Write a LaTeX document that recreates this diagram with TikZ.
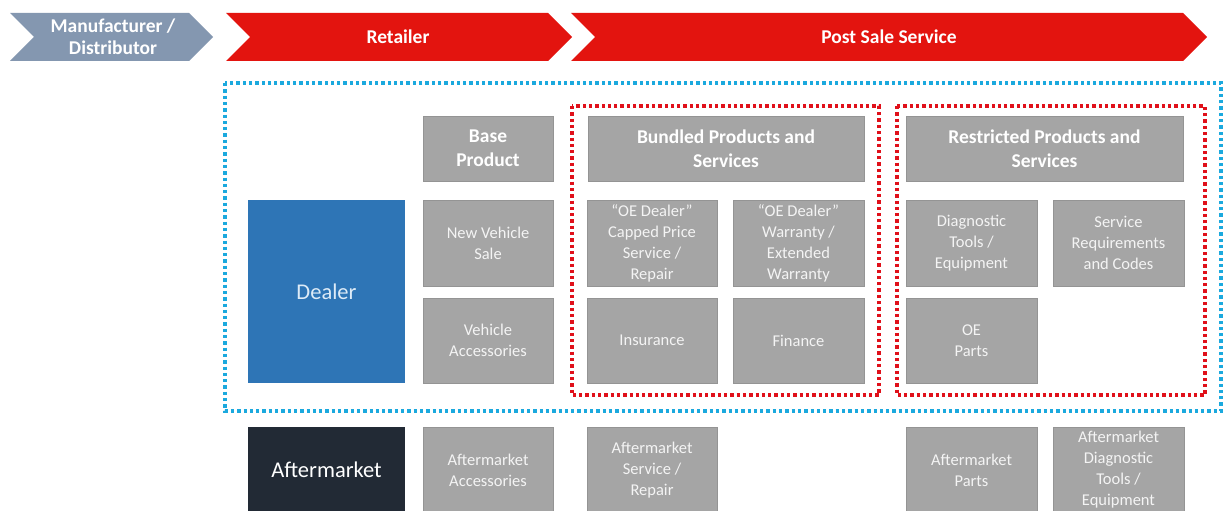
\documentclass[tikz,border=0pt]{standalone}
\usepackage{fontspec}
\setmainfont{Carlito}
\definecolor{chevblue}{HTML}{8497B0}
\definecolor{chevred}{HTML}{E3140F}
\definecolor{boxgray}{HTML}{A5A5A5}
\definecolor{boxline}{HTML}{949494}
\definecolor{boxtext}{HTML}{F4F4F4}
\definecolor{dealerblue}{HTML}{2E75B6}
\definecolor{dealertext}{HTML}{DDEBF7}
\definecolor{amdark}{HTML}{222A35}
\definecolor{dotblue}{HTML}{1BA9DE}
\definecolor{dotred}{HTML}{E0101A}
\begin{document}
\begin{tikzpicture}[x=1pt,y=-1pt,
  chevtext/.style={text=white,align=center,inner sep=0pt,
    font=\fontsize{19.5}{22}\selectfont\bfseries},
  gbox/.style={draw=boxline,fill=boxgray,line width=0.8pt,text=boxtext,
    align=center,inner sep=0pt,minimum height=86pt,
    font=\fontsize{16.5}{21}\selectfont},
  hbox/.style={gbox,minimum height=65pt,text=white,
    font=\fontsize{19.5}{24}\selectfont\bfseries},
  catbox/.style={inner sep=0pt,minimum width=157pt,
    font=\fontsize{22.5}{26}\selectfont},
  dotframe/.style={line width=3.3pt,dash pattern=on 3.3pt off 3pt}]
\useasboundingbox (0,0) rectangle (1232,511);
\clip (0,0) rectangle (1232,511);

% value chain chevrons
\fill[chevblue] (10,13) -- (189,13) -- (213,37) -- (189,61) -- (10,61) -- (34,37) -- cycle;
\fill[chevred] (226,13) -- (548,13) -- (572,37) -- (548,61) -- (226,61) -- (250,37) -- cycle;
\fill[chevred] (571,13) -- (1183,13) -- (1207,37) -- (1183,61) -- (571,61) -- (595,37) -- cycle;
\node[chevtext] (mfg) at (113,37) {Manufacturer /\\Distributor};
\node[chevtext] (ret) at (398,37) {Retailer};
\node[chevtext] (pss) at (889,37) {Post Sale Service};

% dotted groupings
\draw[dotframe,dotblue] (225,83) rectangle (1221,411);
\draw[dotframe,dotred] (572,106) rectangle (879,395);
\draw[dotframe,dotred] (897,106) rectangle (1205,395);

% channel boxes
\node[catbox,fill=dealerblue,text=dealertext,minimum height=183pt] (dealer) at (326.5,291.5) {Dealer};
\node[catbox,fill=amdark,text=white,minimum height=86pt] (am) at (326.5,470) {Aftermarket};

% column headers
\node[hbox,minimum width=130pt] (base) at (488,148.5) {Base\\Product};
\node[hbox,minimum width=276pt] (bundled) at (726,148.5) {Bundled Products and\\Services};
\node[hbox,minimum width=277pt] (restricted) at (1044.5,148.5) {Restricted Products and\\Services};

% dealer offerings
\node[gbox,minimum width=130pt] (nvs) at (488,243) {New Vehicle\\Sale};
\node[gbox,minimum width=130pt] (capped) at (652,243) {“OE Dealer”\\Capped Price\\Service /\\Repair};
\node[gbox,minimum width=131pt] (warranty) at (798.5,243) {“OE Dealer”\\Warranty /\\Extended\\Warranty};
\node[gbox,minimum width=131pt] (diag) at (971.5,243) {Diagnostic\\Tools /\\Equipment};
\node[gbox,minimum width=131pt] (svcreq) at (1118.5,243) {Service\\Requirements\\and Codes};
\node[gbox,minimum width=130pt,minimum height=85pt] (vacc) at (488,340.5) {Vehicle\\Accessories};
\node[gbox,minimum width=130pt,minimum height=85pt] (ins) at (652,340.5) {Insurance};
\node[gbox,minimum width=131pt,minimum height=85pt] (fin) at (798.5,340.5) {Finance};
\node[gbox,minimum width=131pt,minimum height=85pt] (oeparts) at (971.5,340.5) {OE\\Parts};

% aftermarket offerings
\node[gbox,minimum width=130pt] (amacc) at (488,470) {Aftermarket\\Accessories};
\node[gbox,minimum width=130pt] (amsvc) at (652,470) {Aftermarket\\Service /\\Repair};
\node[gbox,minimum width=131pt] (amparts) at (971.5,470) {Aftermarket\\Parts};
\node[gbox,minimum width=131pt] (amdiag) at (1118.5,470) {Aftermarket\\Diagnostic\\Tools /\\Equipment};
\end{tikzpicture}
\end{document}
